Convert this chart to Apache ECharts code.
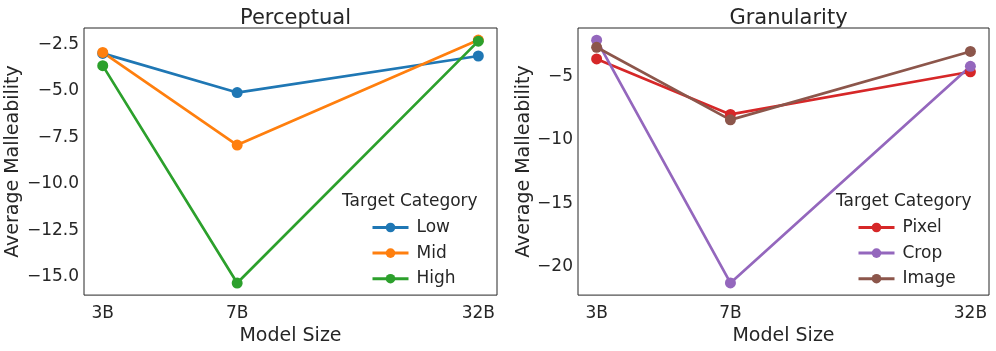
<!DOCTYPE html>
<html><head><meta charset="utf-8">
<script src="https://cdn.jsdelivr.net/npm/echarts@6/dist/echarts.min.js"></script>
<style>html,body{margin:0;padding:0;background:#fff}#c{width:996px;height:351px}</style>
</head><body><div id="c"></div>
<script>
const modelSizes = [3, 7, 32];
const modelLabels = ['3B', '7B', '32B'];
const perceptualNames = ['Low', 'Mid', 'High'];
const perceptualLow = [-2.97, -5.08, -3.11];
const perceptualMid = [-2.92, -7.91, -2.25];
const perceptualHigh = [-3.63, -15.35, -2.31];
const granularityNames = ['Pixel', 'Crop', 'Image'];
const granPixel = [-3.63, -8.0, -4.64];
const granCrop = [-2.15, -21.28, -4.21];
const granImage = [-2.71, -8.43, -3.04];
const leftTicks = [-15, -12.5, -10, -7.5, -5, -2.5];
const rightTicks = [-20, -15, -10, -5];

const FONT = 'DejaVu Sans';
const TXT = '#262626';
const colors = ['#1f77b4', '#ff7f0e', '#2ca02c', '#d62728', '#9467bd', '#8c564b'];
const fmtMinus = (s) => String(s).replace('-', '\u2212');

function pts(vals) { return vals.map((v, i) => [modelSizes[i], v]); }
function lineSeries(name, vals, color, idx) {
  return {
    type: 'line', name, data: pts(vals), xAxisIndex: idx, yAxisIndex: idx,
    symbol: 'circle', symbolSize: 11, color,
    lineStyle: { width: 2.7, color }, itemStyle: { color },
    emphasis: { disabled: true }, animation: false
  };
}
function xAxis(idx) {
  return {
    type: 'log', logBase: 10, gridIndex: idx, min: 2.666, max: 36.0,
    name: 'Model Size', nameLocation: 'middle', nameGap: 31,
    nameTextStyle: { fontFamily: FONT, fontSize: 19, color: TXT },
    axisLine: { show: false }, axisTick: { show: false }, splitLine: { show: false },
    minorTick: { show: false }, minorSplitLine: { show: false },
    axisLabel: {
      customValues: modelSizes, fontFamily: FONT, fontSize: 17, color: TXT, margin: 10,
      formatter: (v) => { const i = modelSizes.indexOf(Math.round(v)); return i >= 0 ? modelLabels[i] : ''; }
    }
  };
}
function yAxis(idx, min, max, ticks, dec) {
  return {
    type: 'value', gridIndex: idx, min, max,
    name: 'Average Malleability', nameLocation: 'middle', nameGap: idx === 0 ? 57 : 44,
    nameTextStyle: { fontFamily: FONT, fontSize: 19, color: TXT },
    axisLine: { show: false }, axisTick: { show: false }, splitLine: { show: false },
    axisLabel: {
      customValues: ticks, fontFamily: FONT, fontSize: 17, color: TXT, margin: 5,
      formatter: (v) => fmtMinus(v.toFixed(dec))
    }
  };
}
const legendCommon = {
  orient: 'vertical', top: 214, itemWidth: 36, itemHeight: 12, itemGap: 8.6,
  textStyle: { fontFamily: FONT, fontSize: 17, color: TXT, padding: [0, 0, 0, 3] },
  lineStyle: { width: 3 }, selectedMode: false
};
const titleStyle = (size) => ({ fontFamily: FONT, fontSize: size, fontWeight: 'normal', color: TXT });

const chart = echarts.init(document.getElementById('c'), null, { renderer: 'canvas' });
chart.setOption({
  backgroundColor: '#fff',
  animation: false,
  title: [
    { text: 'Perceptual', left: 290.5, top: 3, textAlign: 'center', textStyle: titleStyle(21) },
    { text: 'Granularity', left: 783.5, top: 3, textAlign: 'center', textStyle: titleStyle(21) },
    { text: 'Target Category', left: 342, top: 193, padding: 0, textStyle: titleStyle(17) },
    { text: 'Target Category', left: 836, top: 193, padding: 0, textStyle: titleStyle(17) }
  ],
  grid: [
    { left: 84, right: 499, top: 28, bottom: 49, show: true, borderColor: '#262626', borderWidth: 1, backgroundColor: 'transparent' },
    { left: 578, right: 7, top: 28, bottom: 49, show: true, borderColor: '#262626', borderWidth: 1, backgroundColor: 'transparent' }
  ],
  legend: [
    Object.assign({ data: perceptualNames, left: 366 }, legendCommon),
    Object.assign({ data: granularityNames, left: 852 }, legendCommon)
  ],
  xAxis: [xAxis(0), xAxis(1)],
  yAxis: [yAxis(0, -16.0, -1.6, leftTicks, 1), yAxis(1, -22.24, -1.19, rightTicks, 0)],
  series: [
    lineSeries('Low', perceptualLow, colors[0], 0),
    lineSeries('Mid', perceptualMid, colors[1], 0),
    lineSeries('High', perceptualHigh, colors[2], 0),
    lineSeries('Pixel', granPixel, colors[3], 1),
    lineSeries('Crop', granCrop, colors[4], 1),
    lineSeries('Image', granImage, colors[5], 1)
  ]
});
</script></body></html>
